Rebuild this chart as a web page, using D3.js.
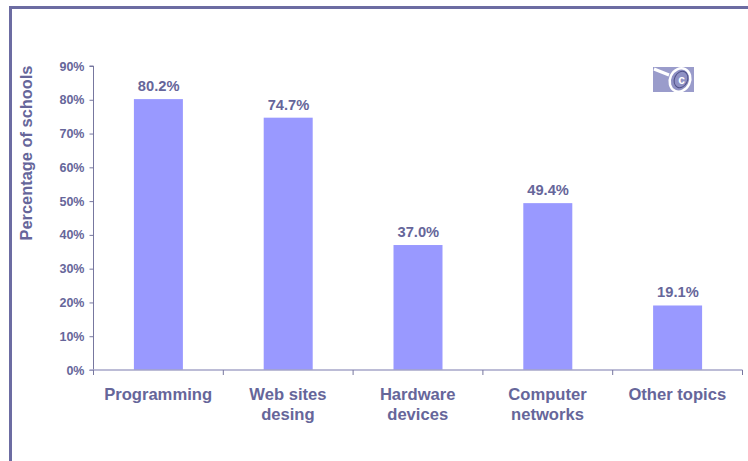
<!DOCTYPE html>
<html>
<head>
<meta charset="utf-8">
<script src="https://cdn.jsdelivr.net/npm/d3@7"></script>
<style>
html,body{margin:0;padding:0;background:#fff;}
svg{display:block;}
text{font-family:"Liberation Sans",Arial,sans-serif;font-weight:bold;fill:#66669a;}
</style>
</head>
<body>
<svg id="chart" width="748" height="461"></svg>
<script>
const categories = [["Programming"],["Web sites","desing"],["Hardware","devices"],["Computer","networks"],["Other topics"]];
const values = [80.2,74.7,37.0,49.4,19.1];
const yTicks = [0,10,20,30,40,50,60,70,80,90];

const svg = d3.select("#chart");
const ink = "#66669a";
const margin = {left:93.5, right:742.5, top:66, bottom:370};

// Outer frame: top and left edges only
svg.append("path")
  .attr("d", d3.line()([[748,7.5],[10.5,7.5],[10.5,461]]))
  .attr("fill","none").attr("stroke","#6c6ca2").attr("stroke-width",3);

const x = d3.scaleBand().domain(d3.range(categories.length))
  .range([margin.left, margin.right]).paddingInner(0).paddingOuter(0);
const y = d3.scaleLinear().domain([0,90]).range([margin.bottom, margin.top]);
const barW = 49;

svg.selectAll("rect.bar").data(values).join("rect")
  .attr("class","bar")
  .attr("x",(d,i)=>x(i)+x.bandwidth()/2-barW/2)
  .attr("width",barW)
  .attr("y",d=>y(d))
  .attr("height",d=>y(0)-y(d))
  .attr("fill","#9999ff");

// Value axis
const yAxis = d3.axisLeft(y).tickValues(yTicks).tickFormat(d=>d+"%").tickSize(4).tickPadding(5);
const gy = svg.append("g").attr("transform",`translate(${margin.left},0)`).call(yAxis);
gy.selectAll("path,line").attr("stroke","#77779f").attr("stroke-width",1);
gy.select("path").attr("d",`M-4,${margin.top}H0V${margin.bottom}`);
gy.selectAll("text").attr("font-size",12.5).style("font-family",'"Liberation Sans",Arial,sans-serif').style("font-weight","bold").attr("fill",ink);

// Category axis
const boundaries = d3.range(categories.length+1).map(i=>margin.left+i*x.bandwidth());
svg.append("line").attr("x1",margin.left-4).attr("x2",margin.right)
  .attr("y1",margin.bottom).attr("y2",margin.bottom)
  .attr("stroke","#a6a6c8").attr("stroke-width",1.6);
svg.selectAll("line.tick-x").data(boundaries).join("line")
  .attr("class","tick-x")
  .attr("x1",d=>d).attr("x2",d=>d)
  .attr("y1",margin.bottom).attr("y2",margin.bottom+5)
  .attr("stroke","#77779f");

const cat = svg.selectAll("text.cat").data(categories).join("text")
  .attr("class","cat")
  .attr("text-anchor","middle")
  .attr("font-size",16.6);
cat.selectAll("tspan").data((d,i)=>d.map(s=>({s,i}))).join("tspan")
  .attr("x",d=>x(d.i)+x.bandwidth()/2-0.3)
  .attr("y",(d,j)=>400+j*20)
  .text(d=>d.s);

// Value labels above the bars
svg.selectAll("text.val").data(values).join("text")
  .attr("class","val")
  .attr("text-anchor","middle")
  .attr("font-size",14.7)
  .attr("x",(d,i)=>x(i)+x.bandwidth()/2+0.3)
  .attr("y",d=>y(d)-8)
  .text(d=>d.toFixed(1)+"%");

// Axis title
svg.append("text")
  .attr("transform","translate(32,153) rotate(-90)")
  .attr("text-anchor","middle")
  .attr("font-size",16.4)
  .text("Percentage of schools");

// Logo: magnifier with an @ sign
const logo = svg.append("g").attr("transform","translate(653,67)");
logo.append("rect").attr("width",41).attr("height",25).attr("fill","#9a9ccb");
logo.append("path").attr("d","M1,2 L16,8").attr("stroke","#fff").attr("stroke-width",3).attr("fill","none");
logo.append("ellipse").attr("cx",27).attr("cy",13).attr("rx",10).attr("ry",12)
  .attr("transform","rotate(25 27 13)")
  .attr("fill","#8f91c4").attr("stroke","#fff").attr("stroke-width",2.5);
logo.append("ellipse").attr("cx",28).attr("cy",12.5).attr("rx",6.5).attr("ry",8.5)
  .attr("transform","rotate(25 28 12.5)")
  .attr("fill","none").attr("stroke","#4f5188").attr("stroke-width",1);
logo.append("text").attr("x",28.5).attr("y",17).attr("text-anchor","middle")
  .attr("font-size",12).style("fill","#fff").text("c");
</script>
</body>
</html>
